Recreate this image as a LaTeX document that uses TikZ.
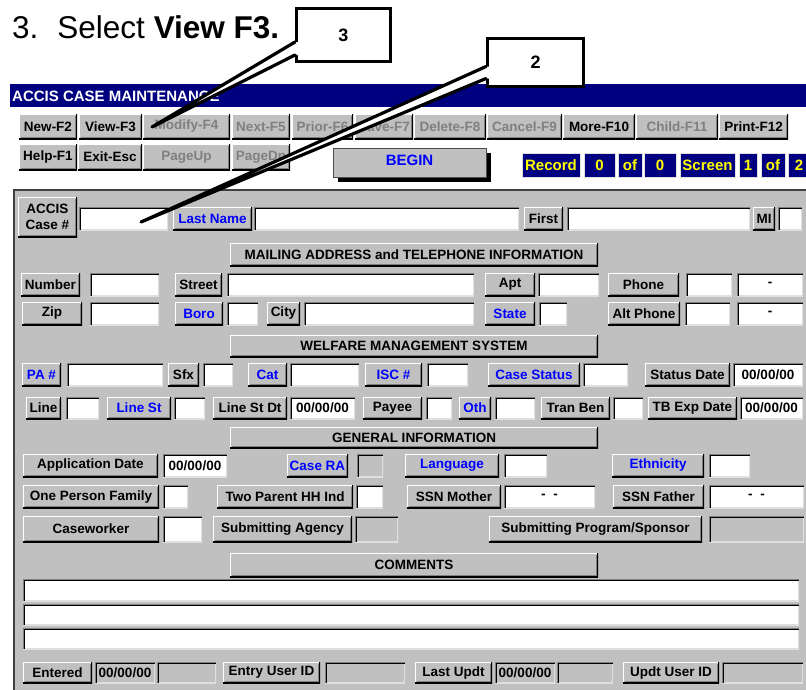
\documentclass[tikz,border=0pt]{standalone}
\usepackage{fontspec}
\setmainfont{Liberation Sans}
\usepackage{tikz}
\usetikzlibrary{positioning,shadows}
\definecolor{uigray}{RGB}{192,192,192}
\definecolor{uidark}{RGB}{128,128,128}
\definecolor{uilight}{RGB}{223,223,223}
\definecolor{uinavy}{RGB}{0,0,128}
\definecolor{uiblue}{RGB}{0,0,255}
\definecolor{uiyellow}{RGB}{255,255,0}
\newcommand{\uifont}{\fontsize{13.5}{16}\selectfont\bfseries}
\newcommand{\statfont}{\fontsize{15}{17}\selectfont\bfseries}
\tikzset{
  raised/.style={path picture={
      \draw[white, line width=2pt] (path picture bounding box.south west) |- (path picture bounding box.north east);
      \draw[black, line width=2pt] (path picture bounding box.south west) -| (path picture bounding box.north east);
      \draw[uidark, line width=1pt] ([shift={(1.5pt,1.5pt)}]path picture bounding box.south west) -| ([shift={(-1.5pt,-1.5pt)}]path picture bounding box.north east);}},
  sunken/.style={path picture={
      \draw[uilight, line width=2pt] (path picture bounding box.south west) -| (path picture bounding box.north east);
      \draw[uidark, line width=2pt] (path picture bounding box.south west) |- (path picture bounding box.north east);
      \draw[black, line width=1pt] ([shift={(1.5pt,0pt)}]path picture bounding box.south west) |- ([shift={(0pt,-1.5pt)}]path picture bounding box.north east);}}
}

\begin{document}
\begin{tikzpicture}[x=1pt, y=-1pt,
    wh/.style 2 args={minimum width=#1, minimum height=#2},
    btn/.style={raised, fill=uigray, inner sep=0pt, outer sep=0pt, anchor=north west, font=\uifont},
    btnoff/.style={btn, text=uidark},
    blbtn/.style={btn, text=uiblue},
    fld/.style={sunken, fill=white, inner sep=0pt, outer sep=0pt, anchor=north west, font=\uifont},
    fldoff/.style={fld, fill=uigray},
    stat/.style={fill=uinavy, draw=uilight, line width=1pt, text=uiyellow, inner sep=0pt, outer sep=0pt, anchor=north west, font=\statfont},
    callout/.style={draw, line width=3pt, fill=white, inner sep=0pt, anchor=north west, font=\fontsize{18}{20}\selectfont\bfseries},
    ptr/.style={line width=3.2pt, line join=round, line cap=round}]

  \useasboundingbox[fill=white] (0,0) rectangle (806,689);

  % heading and title bar
  \node[anchor=base west, inner sep=0pt, font=\fontsize{31.5}{36}\selectfont] (heading) at (12,38) {3.\hskip 19pt Select \textbf{View F3.}};
  \fill[uinavy] (10,84) rectangle (806,107);
  \node[anchor=base west, inner sep=0pt, text=white, font=\fontsize{15}{17}\selectfont\bfseries] (title) at (12,101) {ACCIS CASE MAINTENANCE};

  % function keys
  \node[btn, wh={58}{25}] (newf2) at (19,114) {New-F2};
  \node[btn, wh={63}{25}] (viewf3) at (79,114) {View-F3};
  \node[btnoff, wh={87}{25}] (modf4) at (143,114) {Modify-F4};
  \node[btnoff, wh={58}{25}] (nextf5) at (232,114) {Next-F5};
  \node[btnoff, wh={61}{25}] (priorf6) at (292,114) {Prior-F6};
  \node[btnoff, wh={58}{25}] (savef7) at (355,114) {Save-F7};
  \node[btnoff, wh={72}{25}] (delf8) at (414,114) {Delete-F8};
  \node[btnoff, wh={75}{25}] (canf9) at (487,114) {Cancel-F9};
  \node[btn, wh={72}{25}] (moref10) at (563,114) {More-F10};
  \node[btnoff, wh={82}{25}] (childf11) at (636,114) {Child-F11};
  \node[btn, wh={69}{25}] (printf12) at (719,114) {Print-F12};

  \node[btn, wh={58}{26}] (helpf1) at (19,144) {Help-F1};
  \node[btn, wh={64}{26}] (exitesc) at (78,144) {Exit-Esc};
  \node[btnoff, wh={87}{26}] (pageup) at (143,144) {PageUp};
  \node[btnoff, wh={58}{26}] (pagedn) at (232,144) {PageDn};

  \node[fill=uigray, draw=black!70, text=uiblue, inner sep=0pt, outer sep=0pt, anchor=north west, text depth=5pt,
    font=\fontsize{15}{17}\selectfont\bfseries, wh={153}{29},
    drop shadow={fill=black, opacity=1, shadow xshift=5pt, shadow yshift=-5pt}] (begin) at (333,148) {BEGIN};

  % record / screen counters
  \node[stat, wh={58}{24}] (recl) at (522,153) {Record};
  \node[stat, wh={31}{24}, right=4pt of recl] (recn) {0};
  \node[stat, wh={24}{24}, right=3pt of recn] (recof) {of};
  \node[stat, wh={32}{24}, right=2pt of recof] (rect) {0};
  \node[stat, wh={55}{24}, right=4pt of rect] (scrl) {Screen};
  \node[stat, wh={18}{24}, right=4pt of scrl] (scrn) {1};
  \node[stat, wh={24}{24}, right=4pt of scrn] (scrof) {of};
  \node[stat, wh={22}{24}, right=3pt of scrof] (scrt) {2};

  % form panel
  \fill[uigray] (13,189) rectangle (810,695);
  \draw[black!75, line width=2.5pt] (14,695) -- (14,190) -- (810,190);

  \node[btn, wh={59}{40}, align=center] (accis) at (18,197) {ACCIS\\Case \#};
  \node[fld, wh={89}{23}] (casefld) at (79,207) {};
  \node[blbtn, wh={79}{23}] (lastl) at (173,207) {Last Name};
  \node[fld, wh={265}{23}] (lastfld) at (254,207) {};
  \node[btn, wh={39}{23}] (firstl) at (524,207) {First};
  \node[fld, wh={183}{23}] (firstfld) at (567,207) {};
  \node[btn, wh={22}{23}] (mil) at (753,207) {MI};
  \node[fld, wh={24}{23}] (mifld) at (778,207) {};

  \node[btn, wh={368}{23}] (hdrmail) at (230,243) {MAILING ADDRESS and TELEPHONE INFORMATION};

  \node[btn, wh={59}{23}] (numl) at (21,273) {Number};
  \node[fld, wh={69}{23}] (numfld) at (90,273) {};
  \node[btn, wh={47}{23}] (streetl) at (175,273) {Street};
  \node[fld, wh={247}{23}] (streetfld) at (227,273) {};
  \node[btn, wh={50}{23}] (aptl) at (485,273) {Apt};
  \node[fld, wh={61}{23}] (aptfld) at (538,273) {};
  \node[btn, wh={71}{23}] (phonel) at (608,273) {Phone};
  \node[fld, wh={46}{23}] (phonefld) at (686,273) {};
  \node[fld, wh={66}{23}] (phonefldb) at (737,273) {-};

  \node[btn, wh={60}{23}] (zipl) at (22,302) {Zip};
  \node[fld, wh={69}{23}] (zipfld) at (90,302) {};
  \node[blbtn, wh={48}{23}] (borol) at (175,302) {Boro};
  \node[fld, wh={31}{23}] (borofld) at (227,302) {};
  \node[btn, wh={33}{23}] (cityl) at (267,302) {City};
  \node[fld, wh={170}{23}] (cityfld) at (304,302) {};
  \node[blbtn, wh={50}{23}] (statel) at (485,302) {State};
  \node[fld, wh={28}{23}] (statefld) at (539,302) {};
  \node[btn, wh={72}{23}] (altphl) at (608,302) {Alt Phone};
  \node[fld, wh={45}{23}] (altphfld) at (685,302) {};
  \node[fld, wh={66}{23}] (altphfldb) at (737,302) {-};

  \node[btn, wh={368}{22}] (hdrwms) at (230,335) {WELFARE MANAGEMENT SYSTEM};

  \node[blbtn, wh={39}{23}] (pal) at (22,363) {PA \#};
  \node[fld, wh={96}{23}] (pafld) at (67,363) {};
  \node[btn, wh={31}{23}] (sfxl) at (168,363) {Sfx};
  \node[fld, wh={30}{23}] (sfxfld) at (203,363) {};
  \node[blbtn, wh={39}{23}] (catl) at (248,363) {Cat};
  \node[fld, wh={69}{23}] (catfld) at (290,363) {};
  \node[blbtn, wh={57}{23}] (iscl) at (365,363) {ISC \#};
  \node[fld, wh={41}{23}] (iscfld) at (427,363) {};
  \node[blbtn, wh={92}{23}] (cstatl) at (488,363) {Case Status};
  \node[fld, wh={45}{23}] (cstatfld) at (583,363) {};
  \node[btn, wh={85}{23}] (sdatel) at (645,363) {Status Date};
  \node[fld, wh={70}{23}] (sdatefld) at (733,363) {00/00/00};

  \node[btn, wh={35}{22}] (linel) at (26,397) {Line};
  \node[fld, wh={33}{22}] (linefld) at (66,397) {};
  \node[blbtn, wh={64}{22}] (linestl) at (107,397) {Line St};
  \node[fld, wh={31}{22}] (linestfld) at (174,397) {};
  \node[btn, wh={74}{22}] (linedtl) at (213,397) {Line St Dt};
  \node[fld, wh={65}{22}] (linedtfld) at (290,397) {00/00/00};
  \node[btn, wh={59}{22}] (payeel) at (363,397) {Payee};
  \node[fld, wh={26}{22}] (payeefld) at (426,397) {};
  \node[blbtn, wh={32}{22}] (othl) at (459,397) {Oth};
  \node[fld, wh={40}{22}] (othfld) at (495,397) {};
  \node[btn, wh={69}{22}] (tranl) at (541,397) {Tran Ben};
  \node[fld, wh={30}{22}] (tranfld) at (613,397) {};
  \node[btn, wh={89}{22}] (tbexpl) at (648,397) {TB Exp Date};
  \node[fld, wh={63}{22}] (tbexpfld) at (740,397) {00/00/00};

  \node[btn, wh={368}{21}] (hdrgen) at (230,427) {GENERAL INFORMATION};

  \node[btn, wh={135}{23}] (appl) at (23,454) {Application Date};
  \node[fld, wh={64}{23}] (appfld) at (163,454) {00/00/00};
  \node[blbtn, wh={61}{23}] (caseral) at (287,454) {Case RA};
  \node[fldoff, wh={26}{23}] (caserafld) at (357,454) {};
  \node[blbtn, wh={94}{23}] (langl) at (405,454) {Language};
  \node[fld, wh={43}{23}] (langfld) at (504,454) {};
  \node[blbtn, wh={92}{23}] (ethl) at (612,454) {Ethnicity};
  \node[fld, wh={41}{23}] (ethfld) at (709,454) {};

  \node[btn, wh={136}{23}] (onepl) at (23,485) {One Person Family};
  \node[fld, wh={25}{23}] (onepfld) at (163,485) {};
  \node[btn, wh={136}{23}] (twopl) at (217,485) {Two Parent HH Ind};
  \node[fld, wh={27}{23}] (twopfld) at (356,485) {};
  \node[btn, wh={94}{23}] (ssnml) at (407,485) {SSN Mother};
  \node[fld, wh={91}{23}] (ssnmfld) at (504,485) {-\hspace{8pt}-};
  \node[btn, wh={91}{23}] (ssnfl) at (613,485) {SSN Father};
  \node[fld, wh={95}{23}] (ssnffld) at (709,485) {-\hspace{8pt}-};

  \node[btn, wh={136}{26}] (cwl) at (23,516) {Caseworker};
  \node[fld, wh={39}{26}] (cwfld) at (163,516) {};
  \node[btn, wh={139}{26}] (subagl) at (213,516) {Submitting Agency};
  \node[fldoff, wh={43}{26}] (subagfld) at (355,516) {};
  \node[btn, wh={213}{26}] (subpgl) at (489,516) {Submitting Program/Sponsor};
  \node[fldoff, wh={95}{26}] (subpgfld) at (709,516) {};

  \node[btn, wh={368}{24}] (hdrcmt) at (230,553) {COMMENTS};
  \node[fld, wh={776}{22}] (cmta) at (23,579) {};
  \node[fld, wh={776}{21}] (cmtb) at (23,604) {};
  \node[fld, wh={776}{21}] (cmtc) at (23,628) {};

  \node[btn, wh={69}{21}] (entl) at (23,662) {Entered};
  \node[fldoff, wh={60}{21}] (entdfld) at (95,662) {00/00/00};
  \node[fldoff, wh={59}{21}] (entxfld) at (157,662) {};
  \node[btn, wh={97}{21}] (entuidl) at (223,662) {Entry User ID};
  \node[fldoff, wh={80}{21}] (entuidfld) at (325,662) {};
  \node[btn, wh={77}{21}] (updl) at (415,662) {Last Updt};
  \node[fldoff, wh={60}{21}] (upddfld) at (495,662) {00/00/00};
  \node[fldoff, wh={56}{21}] (updxfld) at (557,662) {};
  \node[btn, wh={96}{21}] (upduidl) at (623,662) {Updt User ID};
  \node[fldoff, wh={81}{21}] (upduidfld) at (722,662) {};

  % callouts
  \node[callout, wh={94}{53}] (call3) at (295,7) {3};
  \node[callout, wh={96}{48}] (call2) at (486,37) {2};
  \coordinate (tip3) at (152,127);
  \coordinate (tip2) at (141,222);

  \fill[white] ([yshift=-7pt,xshift=3pt]call3.west) -- ([yshift=-7pt]call3.west) -- (tip3) -- ([yshift=-20pt]call3.west) -- ([yshift=-20pt,xshift=3pt]call3.west) -- cycle;
  \draw[ptr] ([yshift=-7pt]call3.west) -- (tip3) -- ([yshift=-20pt]call3.west);
  \fill[white] ([yshift=-4pt,xshift=3pt]call2.west) -- ([yshift=-4pt]call2.west) -- (tip2) -- ([yshift=-16pt]call2.west) -- ([yshift=-16pt,xshift=3pt]call2.west) -- cycle;
  \draw[ptr] ([yshift=-4pt]call2.west) -- (tip2) -- ([yshift=-16pt]call2.west);
\end{tikzpicture}
\end{document}
